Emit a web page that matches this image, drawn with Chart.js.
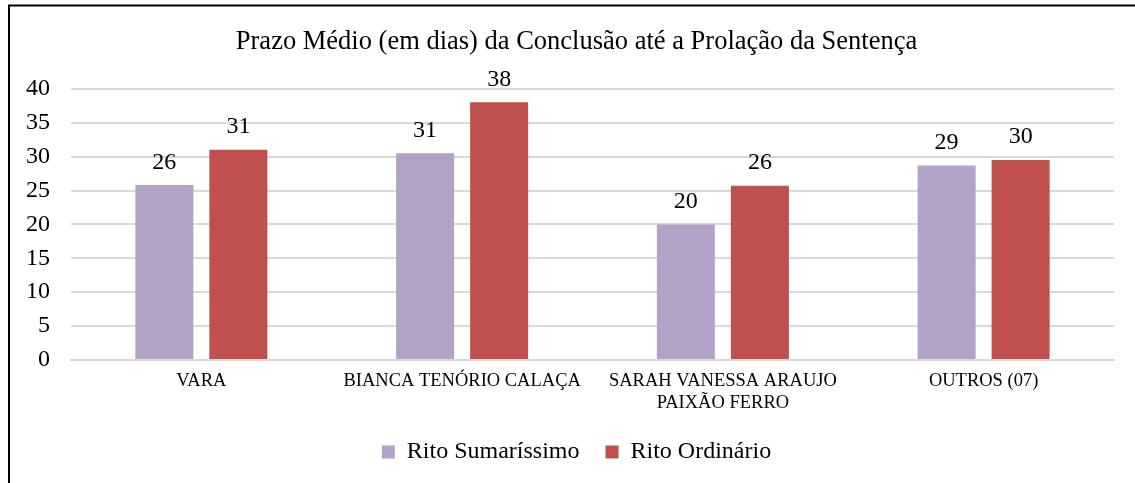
<!DOCTYPE html>
<html>
<head>
<meta charset="utf-8">
<script src="https://cdn.jsdelivr.net/npm/chart.js@4/dist/chart.umd.min.js"></script>
<style>
  html, body { margin: 0; padding: 0; background: #ffffff; }
  #wrap { position: relative; width: 1135px; height: 483px; }
</style>
</head>
<body>
<div id="wrap"><canvas id="c" width="1135" height="483"></canvas></div>
<script>
const TITLE = 'Prazo Médio (em dias) da Conclusão até a Prolação da Sentença';
const categories = ['VARA', 'BIANCA TENÓRIO CALAÇA', ['SARAH VANESSA ARAUJO', 'PAIXÃO FERRO'], 'OUTROS (07)'];
const seriesNames = ['Rito Sumaríssimo', 'Rito Ordinário'];
const ritoSumarissimo = [25.8, 30.5, 20.0, 28.7];
const ritoOrdinario = [31.0, 38.0, 25.7, 29.5];
const yTicks = [0, 5, 10, 15, 20, 25, 30, 35, 40];

const SERIF = '"Liberation Serif", "Times New Roman", "DejaVu Serif", serif';

const frame = {
  id: 'frame',
  beforeDraw(chart) {
    const ctx = chart.ctx;
    ctx.save();
    ctx.fillStyle = '#ffffff';
    ctx.fillRect(0, 0, chart.width, chart.height);
    ctx.strokeStyle = '#000000';
    ctx.lineWidth = 2;
    ctx.beginPath();
    ctx.moveTo(9, chart.height);
    ctx.lineTo(9, 5.5);
    ctx.lineTo(chart.width, 5.5);
    ctx.stroke();
    ctx.restore();
  }
};

const valueLabels = {
  id: 'valueLabels',
  afterDatasetsDraw(chart) {
    const ctx = chart.ctx;
    ctx.save();
    ctx.font = '24px ' + SERIF;
    ctx.fillStyle = '#000000';
    ctx.textAlign = 'center';
    ctx.textBaseline = 'alphabetic';
    chart.data.datasets.forEach((ds, i) => {
      const meta = chart.getDatasetMeta(i);
      meta.data.forEach((bar, j) => {
        ctx.fillText(String(Math.round(ds.data[j])), bar.x, bar.y - 16.5);
      });
    });
    ctx.restore();
  }
};

new Chart(document.getElementById('c'), {
  type: 'bar',
  data: {
    labels: categories,
    datasets: [
      { label: seriesNames[0], data: ritoSumarissimo, backgroundColor: '#B3A2C7', yAxisID: 'y' },
      { label: seriesNames[1], data: ritoOrdinario, backgroundColor: '#C0504D', yAxisID: 'y' }
    ]
  },
  options: {
    responsive: false,
    animation: false,
    devicePixelRatio: 1,
    categoryPercentage: 0.5676,
    barPercentage: 0.784,
    layout: { padding: { left: 18, right: 0, top: 0, bottom: 9 } },
    plugins: {
      title: {
        display: true,
        text: TITLE,
        color: '#000000',
        font: { family: SERIF, size: 26.5, weight: 'normal' },
        padding: { top: 26, bottom: 31 }
      },
      legend: {
        position: 'bottom',
        labels: {
          color: '#000000',
          font: { family: SERIF, size: 24 },
          boxWidth: 13,
          boxHeight: 13,
          padding: 26
        }
      },
      tooltip: { enabled: false }
    },
    scales: {
      x: {
        grid: { display: false, drawTicks: false },
        border: { display: true, color: '#D9D9D9', width: 2 },
        ticks: {
          color: '#000000',
          font: { family: SERIF, size: 18.5 },
          padding: 10,
          maxRotation: 0,
          autoSkip: false
        },
        afterFit(s) { s.height = 54; }
      },
      y: {
        min: 0,
        max: 40,
        afterBuildTicks(s) { s.ticks = yTicks.map(v => ({ value: v })); },
        grid: { color: '#D9D9D9', lineWidth: 2, drawTicks: false },
        border: { display: false },
        ticks: {
          color: '#000000',
          font: { family: SERIF, size: 24 },
          padding: 21
        },
        afterFit(s) { s.width = 53; }
      },
      yRight: {
        position: 'right',
        display: true,
        grid: { display: false, drawTicks: false },
        border: { display: false },
        ticks: { display: false },
        afterFit(s) { s.width = 21; }
      }
    }
  },
  plugins: [frame, valueLabels]
});
</script>
</body>
</html>
